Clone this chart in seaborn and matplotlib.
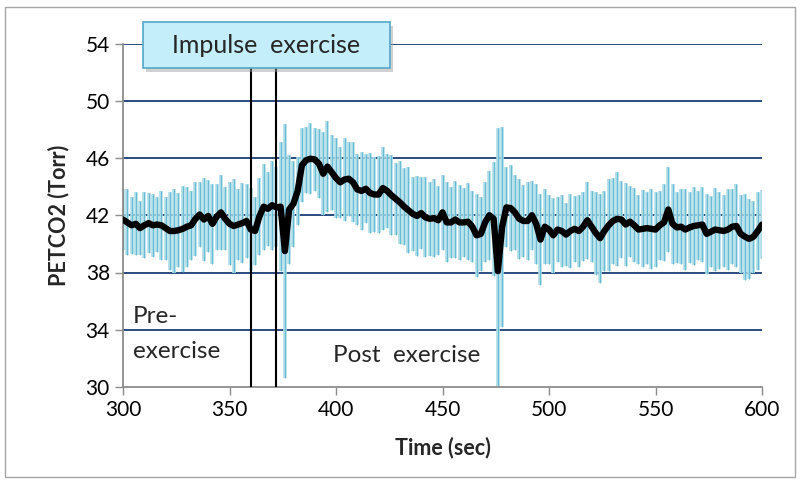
import numpy as np
import pandas as pd
import matplotlib
matplotlib.use("Agg")
import matplotlib.pyplot as plt
import seaborn as sns
from matplotlib.patches import Rectangle

# ---- data ----
time = list(range(300, 601, 2))

mean = [
    41.7, 41.5, 41.3, 41.4, 41.1, 41.3, 41.45, 41.3, 41.35, 41.3,
    41.1, 40.9, 40.9, 40.95, 41.05, 41.2, 41.3, 41.75, 42.05, 41.7,
    41.95, 41.4, 41.9, 42.2, 41.75, 41.4, 41.25, 41.35, 41.45, 41.6,
    41.0, 40.9, 41.9, 42.6, 42.45, 42.7, 42.55, 42.6, 39.5, 42.4,
    42.8, 43.7, 45.5, 45.85, 45.95, 45.9, 45.6, 44.9, 45.4, 45.0,
    44.6, 44.3, 44.5, 44.55, 44.3, 43.8, 43.7, 43.85, 43.55, 43.45,
    43.45, 43.9, 43.7, 43.4, 43.15, 42.9, 42.6, 42.35, 42.1, 41.95,
    42.15, 41.85, 41.75, 41.8, 41.65, 42.2, 41.5, 41.5, 41.7, 41.5,
    41.5, 41.55, 41.2, 40.6, 40.7, 41.5, 42.0, 41.75, 38.1, 41.2,
    42.55, 42.5, 42.2, 41.75, 41.6, 41.6, 42.0, 41.4, 40.3, 41.2,
    41.0, 40.6, 41.0, 40.9, 40.65, 40.9, 41.05, 40.9, 41.2, 41.65,
    41.2, 40.75, 40.4, 40.9, 41.3, 41.6, 41.75, 41.7, 41.35, 41.55,
    41.3, 41.0, 41.05, 41.1, 41.05, 41.0, 41.3, 41.5, 42.4, 41.4,
    41.15, 41.2, 41.0, 41.15, 41.25, 41.3, 41.35, 40.7, 40.85, 41.0,
    40.95, 40.9, 41.0, 41.2, 41.25, 40.7, 40.5, 40.35, 40.5, 40.9,
    41.35,
]

err = [
    2.1, 2.3, 2.0, 2.2, 1.9, 2.3, 2.1, 2.2, 1.9, 2.4,
    2.2, 2.7, 2.9, 2.6, 3.0, 2.8, 2.4, 2.6, 2.3, 2.9,
    2.5, 2.8, 2.3, 2.6, 2.2, 2.9, 3.3, 2.5, 2.8, 2.6,
    2.9, 2.4, 2.7, 3.0, 2.6, 3.1, 2.8, 4.5, 8.9, 3.8,
    3.0, 2.4, 2.6, 2.3, 2.5, 2.2, 2.4, 2.9, 3.2, 2.6,
    2.8, 2.5, 2.9, 2.6, 2.8, 2.5, 2.7, 2.4, 2.8, 2.6,
    2.7, 2.9, 2.6, 2.8, 2.5, 2.9, 2.7, 3.0, 2.6, 2.8,
    2.5, 2.8, 2.6, 2.7, 2.4, 2.6, 2.8, 2.5, 2.7, 2.6,
    2.4, 2.7, 2.5, 2.9, 2.6, 2.8, 3.1, 4.0, 10.0, 7.0,
    2.8, 3.0, 2.6, 2.8, 2.5, 2.7, 2.4, 2.8, 3.2, 2.6,
    2.4, 2.6, 2.3, 2.5, 2.2, 2.6, 2.3, 2.5, 2.4, 2.7,
    2.5, 2.9, 3.1, 2.8, 3.2, 3.0, 3.3, 2.7, 2.9, 2.5,
    2.6, 2.4, 2.7, 2.5, 2.8, 2.6, 2.4, 2.7, 3.0, 2.8,
    2.5, 2.6, 2.8, 2.5, 2.7, 2.4, 2.6, 2.8, 2.5, 2.9,
    2.7, 2.5, 2.8, 2.6, 2.9, 2.7, 3.0, 2.8, 2.5, 2.7,
    2.4,
]

x_ticks = [300, 350, 400, 450, 500, 550, 600]
y_ticks = [30, 34, 38, 42, 46, 50, 54]
impulse_start, impulse_end = 360, 372

df = pd.DataFrame({"Time": time, "PETCO2": mean, "err": err})

# ---- style ----
sns.set_theme(style="white")
plt.rcParams["font.family"] = ["Lato", "DejaVu Sans"]

fig = plt.figure(figsize=(8.01, 4.82), dpi=100)
ax = fig.add_axes([123 / 801, 1 - 387 / 482, (762 - 123) / 801, (387 - 43.5) / 482])

grid_c = "#2b4c80"
for yv in y_ticks[1:]:
    ax.axhline(yv, color=grid_c, lw=1.4, zorder=1)

lo = df["PETCO2"] - df["err"]
hi = df["PETCO2"] + df["err"]
ax.vlines(df["Time"], lo, hi, color="#acdbe8", lw=2.6, zorder=2)
ax.vlines(df["Time"], lo, hi, color="#5ab6cf", lw=0.6, zorder=2)

sns.lineplot(data=df, x="Time", y="PETCO2", color="black", lw=4.6, ax=ax, zorder=4)

for xv in (impulse_start, impulse_end):
    ax.axvline(xv, color="black", lw=1.5, zorder=3)

ax.set_xlim(300, 600)
ax.set_ylim(30, 54)
ax.set_xticks(x_ticks)
ax.set_yticks(y_ticks)
ax.tick_params(axis="both", labelsize=15, colors="black", length=6, width=1,
               direction="out")
ax.tick_params(axis="both", color="#8c8c8c")
for s in ("top", "right"):
    ax.spines[s].set_visible(False)
for s in ("left", "bottom"):
    ax.spines[s].set_color("#8c8c8c")
    ax.spines[s].set_linewidth(1.3)
ax.tick_params(axis="x", bottom=True)
ax.tick_params(axis="y", left=True)

ax.set_xlabel("Time (sec)", fontsize=15.5, fontweight="bold", labelpad=12)
ax.set_ylabel("PETCO2 (Torr)", fontsize=15.5, fontweight="bold", labelpad=12)

ax.text(304.5, 34.95, "Pre-", fontsize=17.5, ha="left", va="center")
ax.text(304.5, 32.45, "exercise", fontsize=17.5, ha="left", va="center")
ax.text(398.5, 32.2, "Post  exercise", fontsize=17.5, ha="left", va="center")

# Impulse exercise box (figure coords), with shadow
bx0, by0, bw, bh = 143 / 801, 1 - 68 / 482, 247 / 801, 46 / 482
fig.add_artist(Rectangle((bx0 + 3 / 801, by0 - 4 / 482), bw, bh,
                         transform=fig.transFigure, facecolor="#9a9a9a",
                         alpha=0.45, edgecolor="none", zorder=9))
fig.add_artist(Rectangle((bx0, by0), bw, bh, transform=fig.transFigure,
                         facecolor="#c4eefa", edgecolor="#55a7c8", lw=1.2,
                         zorder=10))
fig.text(bx0 + bw / 2, by0 + bh / 2 - 1 / 482, "Impulse  exercise", fontsize=18,
         ha="center", va="center", zorder=11)

# outer border
fig.add_artist(Rectangle((5 / 801, 5 / 482), 790 / 801, 470 / 482,
                         transform=fig.transFigure, facecolor="none",
                         edgecolor="#a6a6a6", lw=1.0, zorder=0))

fig.savefig("out.png", dpi=100)
